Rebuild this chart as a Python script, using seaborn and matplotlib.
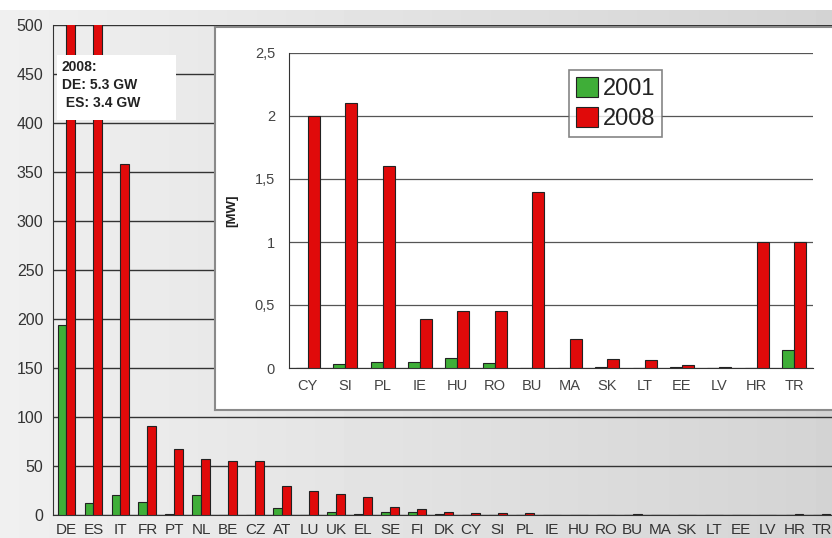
"""
Installed PV capacity per country, 2001 vs 2008, with an inset for the small markets
"""
import numpy as np
import pandas as pd
import matplotlib.pyplot as plt
import matplotlib.patches as mpatches
import seaborn as sns

# --- data (MW) ---
countries = ['DE', 'ES', 'IT', 'FR', 'PT', 'NL', 'BE', 'CZ', 'AT', 'LU', 'UK', 'EL',
             'SE', 'FI', 'DK', 'CY', 'SI', 'PL', 'IE', 'HU', 'RO', 'BU', 'MA', 'SK',
             'LT', 'EE', 'LV', 'HR', 'TR']
mw_2001 = [194, 12, 20, 13, 1, 20, 0, 0, 7, 0, 3, 1,
           3, 3, 1, 0, 0.03, 0.05, 0.05, 0.08, 0.04, 0, 0, 0.01,
           0, 0.01, 0, 0, 0.14]
mw_2008 = [5300, 3400, 358, 91, 67, 57, 55, 55, 30, 24, 21, 18,
           8, 6, 3, 2.0, 2.1, 1.6, 0.39, 0.45, 0.45, 1.4, 0.23, 0.07,
           0.06, 0.02, 0.01, 1.0, 1.0]
years = ['2001', '2008']
inset_countries = countries[15:]

main_yticks = list(range(0, 501, 50))
inset_yticks = [0, 0.5, 1, 1.5, 2, 2.5]
inset_ytick_labels = ['0', '0,5', '1', '1,5', '2', '2,5']
note_lines = ['2008:', 'DE: 5.3 GW', ' ES: 3.4 GW']

GREEN = '#3fae38'
RED = '#e00a0a'
palette = {'2001': GREEN, '2008': RED}

df = pd.DataFrame({
    'country': countries * 2,
    'year': ['2001'] * len(countries) + ['2008'] * len(countries),
    'mw': mw_2001 + mw_2008,
})
df_inset = df[df['country'].isin(inset_countries)]

sns.set_style('white')
plt.rcParams['font.family'] = ['Liberation Sans', 'DejaVu Sans']

W, H = 832, 538
fig = plt.figure(figsize=(W / 100, H / 100), dpi=100)
fig.patch.set_facecolor('white')


def px_axes(x0, y0, x1, y1, **kw):
    """axes from pixel box (top-left origin)"""
    return fig.add_axes([x0 / W, 1 - y1 / H, (x1 - x0) / W, (y1 - y0) / H], **kw)


# grey gradient backdrop
bg = px_axes(0, 10, W, H)
grad = np.linspace(0.94, 0.83, 256).reshape(1, -1)
bg.imshow(grad, cmap='gray', vmin=0, vmax=1, aspect='auto', extent=(0, 1, 0, 1))
bg.set_axis_off()

# --- main chart ---
ax = px_axes(53, 25, 835, 515)
ax.set_facecolor('none')
sns.barplot(data=df, x='country', y='mw', hue='year', palette=palette, order=countries,
            hue_order=years, width=0.66, saturation=1, edgecolor='#222222',
            linewidth=0.8, legend=False, ax=ax, zorder=3)
ax.set_ylim(0, 500)
ax.set_xlim(-0.5, len(countries) - 0.5)
ax.set_yticks(main_yticks)
ax.set_yticklabels([str(v) for v in main_yticks], fontsize=11.5, color='#333333')
ax.set_xticks(np.arange(-0.5, len(countries), 1))
ax.set_xticklabels([])
ax.set_xticks(range(len(countries)), minor=True)
ax.set_xticklabels(countries, minor=True, fontsize=11, color='#333333')
ax.tick_params(axis='x', which='major', direction='out', length=4, color='#333333')
ax.tick_params(axis='x', which='minor', length=0, pad=6)
ax.tick_params(axis='y', direction='out', length=4, color='#333333', pad=3)
ax.yaxis.grid(True, color='#333333', linewidth=1)
ax.set_axisbelow(True)
ax.set_xlabel('')
ax.set_ylabel('')
for side in ['top', 'right']:
    ax.spines[side].set_visible(False)
ax.spines['left'].set_color('#333333')
ax.spines['bottom'].set_color('#333333')

# note box for clipped bars
fig.patches.append(mpatches.Rectangle((57 / W, 1 - 120 / H), 119 / W, 65 / H,
                                      transform=fig.transFigure, facecolor='white',
                                      edgecolor='none', zorder=5))
for i, line in enumerate(note_lines):
    fig.text(62 / W, 1 - (67 + i * 18) / H, line, fontsize=10, fontweight='bold',
             color='#222222', va='center', ha='left', zorder=6)

# --- inset ---
box = px_axes(215, 27, 836, 410)
box.set_facecolor('white')
box.set_xticks([])
box.set_yticks([])
for s in box.spines.values():
    s.set_color('#8a8a8a')
    s.set_linewidth(1.5)

ins = px_axes(289, 53, 813, 368)
ins.set_facecolor('white')
sns.barplot(data=df_inset, x='country', y='mw', hue='year', palette=palette,
            order=inset_countries, hue_order=years, width=0.64, saturation=1,
            edgecolor='#222222', linewidth=0.8, ax=ins, zorder=3)
ins.set_ylim(0, 2.5)
ins.set_xlim(-0.5, len(inset_countries) - 0.5)
ins.set_yticks(inset_yticks)
ins.set_yticklabels(inset_ytick_labels, fontsize=10.5, color='#444444')
ins.set_xticks(np.arange(-0.5, len(inset_countries), 1))
ins.set_xticklabels([])
ins.set_xticks(range(len(inset_countries)), minor=True)
ins.set_xticklabels(inset_countries, minor=True, fontsize=10.5, color='#444444')
ins.tick_params(axis='x', which='major', direction='out', length=4, color='#333333')
ins.tick_params(axis='x', which='minor', length=0, pad=8)
ins.tick_params(axis='y', direction='out', length=4, color='#333333', pad=6)
ins.yaxis.grid(True, color='#555555', linewidth=0.9)
ins.set_axisbelow(True)
ins.set_xlabel('')
ins.set_ylabel('[MW]', fontsize=9.5, fontweight='bold', color='#222222', labelpad=12)
ins.spines['top'].set_visible(False)
ins.spines['right'].set_visible(False)
ins.spines['left'].set_color('#333333')
ins.spines['bottom'].set_color('#333333')

leg = ins.legend(loc='upper left', bbox_to_anchor=(0.535, 0.945), fontsize=17,
                 frameon=True, fancybox=False, handlelength=0.9, handleheight=0.9,
                 handletextpad=0.2, borderpad=0.3, labelspacing=0.3, borderaxespad=0)
leg.get_frame().set_edgecolor('#666666')
leg.get_frame().set_linewidth(1.2)
for t in leg.get_texts():
    t.set_color('#222222')

plt.savefig('out.png', dpi=100)
plt.close()
